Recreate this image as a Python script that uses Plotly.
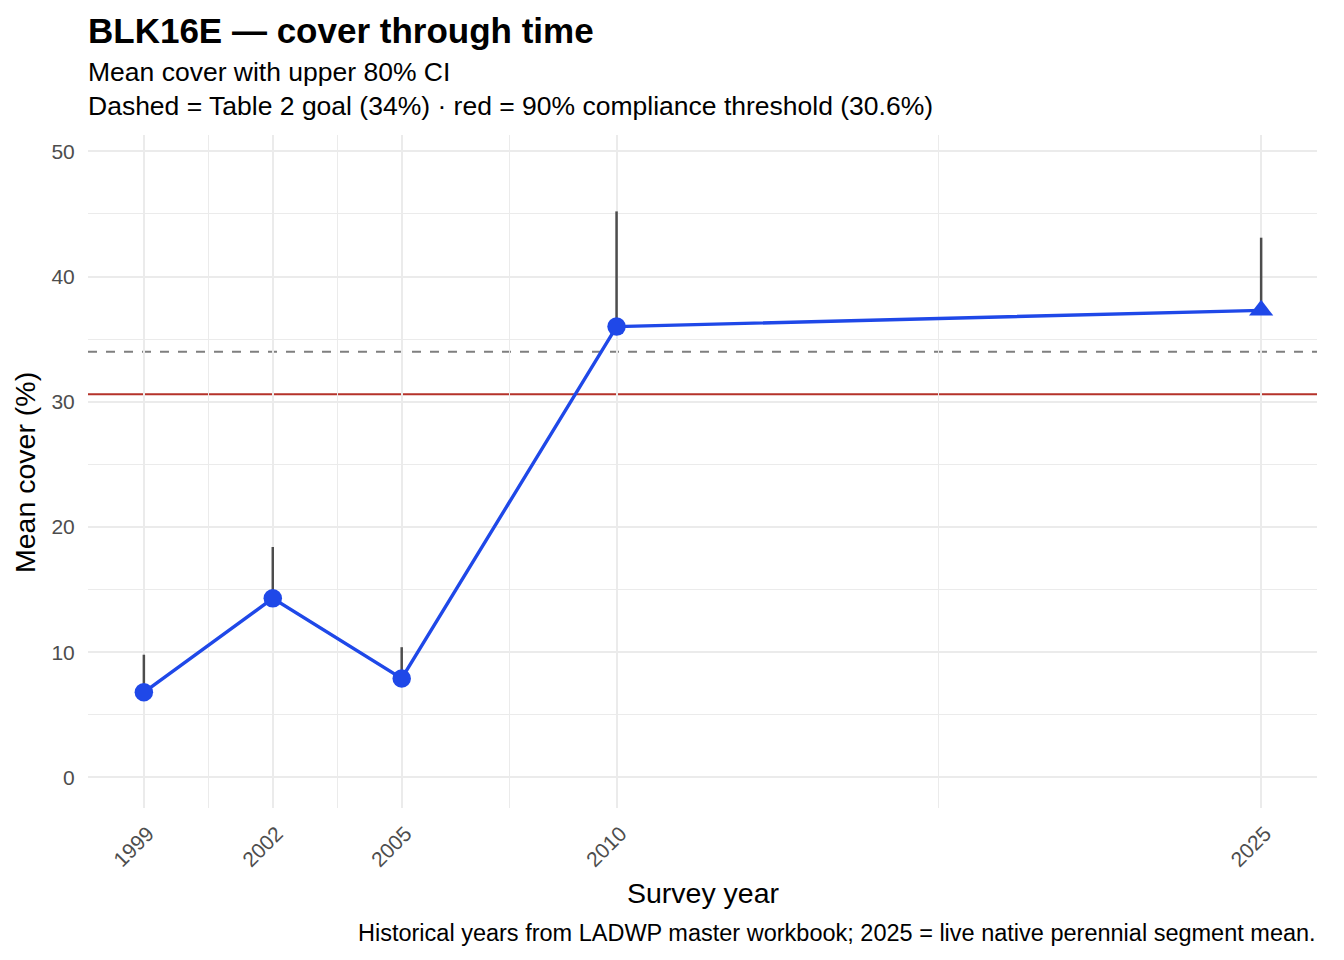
#!/usr/bin/env python3
"""BLK16E cover through time: mean cover with upper 80% CI, goal and compliance lines."""
import plotly.graph_objects as go

# survey data
years = [1999, 2002, 2005, 2010, 2025]
mean_cover = [6.8, 14.3, 7.9, 36.0, 37.3]
upper_ci = [9.8, 18.4, 10.4, 45.2, 43.1]
source = ["historical", "historical", "historical", "historical", "live"]

goal = 34.0
threshold = 30.6

y_ticks = [0, 10, 20, 30, 40, 50]
y_minor = [5, 15, 25, 35, 45]
x_minor = [2000.5, 2003.5, 2007.5, 2017.5]

FONT = "Liberation Sans, Arial, Helvetica, sans-serif"
BLUE = "#1F48E8"
GRID = "#EBEBEB"

# the page body adds an 8px margin, so the figure sits 8px right and down
OFF = 8
W, H = 1344, 960
# wanted plot area on screen: x 88..1317, y 135..808
L, R, T, B = 88 - OFF, W - 1317 + OFF, 135 - OFF, H - 808 + OFF
PW, PH = W - L - R, H - T - B


def px(x):
    return (x - OFF - L) / PW


def py(y):
    return (H - B - (y - OFF)) / PH


fig = go.Figure()

# upper CI segments (mean -> upper), drawn beneath the points
seg_x, seg_y = [], []
for yr, m, u in zip(years, mean_cover, upper_ci):
    seg_x += [yr, yr, None]
    seg_y += [m, u, None]
fig.add_trace(go.Scatter(
    x=seg_x, y=seg_y, mode="lines",
    line=dict(color="#4D4D4D", width=2.5),
    hoverinfo="skip", showlegend=False
))

fig.add_hline(y=goal, line=dict(color="#7F7F7F", width=2, dash="9px,9px"), layer="below")
fig.add_hline(y=threshold, line=dict(color="#B5322A", width=2), layer="below")

fig.add_trace(go.Scatter(
    x=years, y=mean_cover, mode="lines",
    line=dict(color=BLUE, width=3.4),
    showlegend=False, hoverinfo="skip"
))

symbols = ["triangle-up" if s == "live" else "circle" for s in source]
sizes = [21 if s == "live" else 18.5 for s in source]
fig.add_trace(go.Scatter(
    x=years, y=mean_cover, mode="markers",
    marker=dict(color=BLUE, symbol=symbols, size=sizes, opacity=1, line=dict(width=0)),
    showlegend=False,
    hovertemplate="%{x}: %{y:.1f}%<extra></extra>"
))

fig.update_layout(
    width=W, height=H,
    margin=dict(l=L, r=R, t=T, b=B),
    paper_bgcolor="white", plot_bgcolor="white",
    font=dict(family=FONT, color="black"),
    showlegend=False,
)

fig.add_annotation(
    text="<b>BLK16E — cover through time</b>",
    xref="paper", yref="paper", x=px(86), y=py(30),
    xanchor="left", yanchor="middle", showarrow=False,
    font=dict(size=35, color="black")
)
fig.add_annotation(
    text="Mean cover with upper 80% CI<br>"
         "Dashed = Table 2 goal (34%) · red = 90% compliance threshold (30.6%)",
    xref="paper", yref="paper", x=px(86), y=py(89), align="left",
    xanchor="left", yanchor="middle", showarrow=False,
    font=dict(size=26.5, color="black")
)
fig.add_annotation(
    text="Historical years from LADWP master workbook; 2025 = live native perennial segment mean.",
    xref="paper", yref="paper", x=px(1318), y=py(933),
    xanchor="right", yanchor="middle", showarrow=False,
    font=dict(size=23.5, color="black")
)
fig.add_annotation(
    text="Survey year", xref="paper", yref="paper", x=px(703), y=py(893),
    xanchor="center", yanchor="middle", showarrow=False,
    font=dict(size=28.5, color="black")
)
fig.add_annotation(
    text="Mean cover (%)", xref="paper", yref="paper", x=px(25), y=py(473),
    xanchor="center", yanchor="middle", textangle=-90, showarrow=False,
    font=dict(size=28.5, color="black")
)

fig.update_xaxes(
    range=[1997.7, 2026.3], automargin=False,
    tickmode="array", tickvals=years, ticktext=[str(y) for y in years],
    tickangle=-45, tickfont=dict(size=21, color="#4D4D4D"), ticklabelshift=4,
    showgrid=True, gridcolor=GRID, gridwidth=2.2,
    minor=dict(tickmode="array", tickvals=x_minor, showgrid=True, gridcolor=GRID, gridwidth=1.1),
    zeroline=False, showline=False, ticks="outside", ticklen=4, tickcolor="rgba(0,0,0,0)",
)
fig.update_yaxes(
    range=[-2.44, 51.3], automargin=False,
    tickmode="array", tickvals=y_ticks,
    tickfont=dict(size=21, color="#4D4D4D"),
    showgrid=True, gridcolor=GRID, gridwidth=2.2,
    minor=dict(tickmode="array", tickvals=y_minor, showgrid=True, gridcolor=GRID, gridwidth=1.1),
    zeroline=False, showline=False, ticks="outside", ticklen=8, tickcolor="rgba(0,0,0,0)",
)

fig.write_html("out.html")
